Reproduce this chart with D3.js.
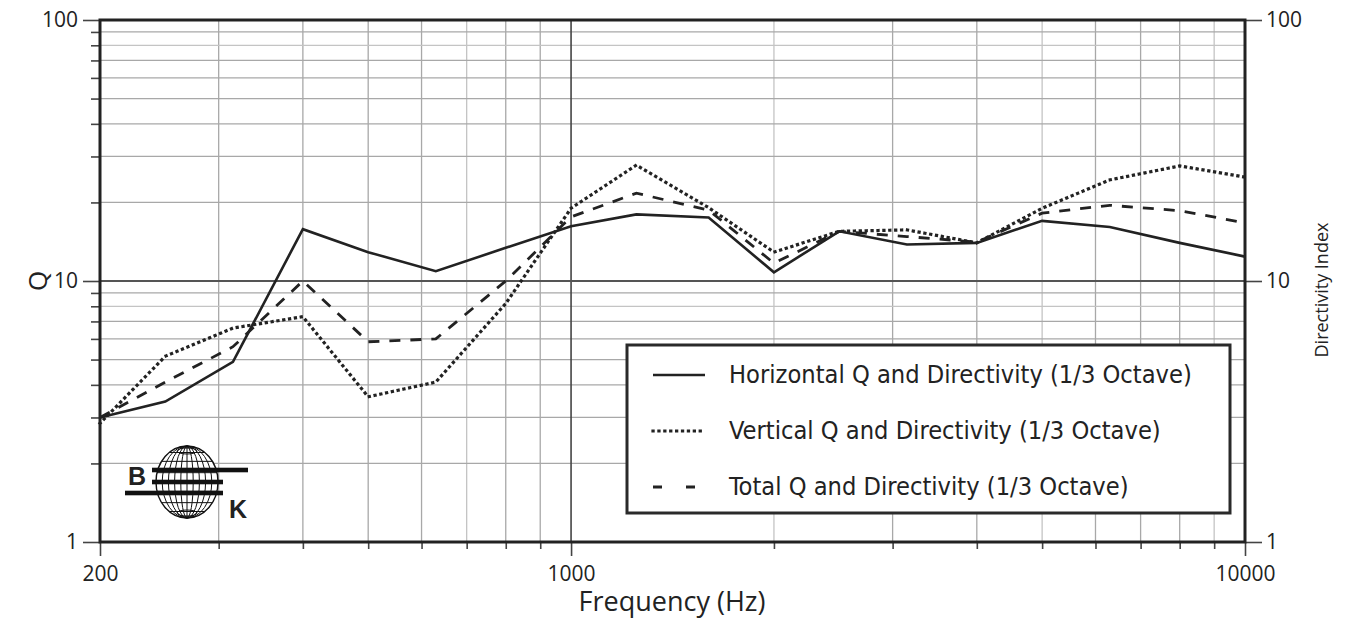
<!DOCTYPE html>
<html>
<head>
<meta charset="utf-8">
<script src="https://cdn.jsdelivr.net/npm/d3@7"></script>
<style>
  html, body { margin: 0; padding: 0; background: #fff; }
  svg { display: block; }
</style>
</head>
<body>
<svg id="chart" width="1347" height="629"></svg>
<script>
// ---------- data ----------
const freqs      = [200, 250, 315, 400, 500, 630, 800, 1000, 1250, 1600, 2000, 2500, 3150, 4000, 5000, 6300, 8000, 10000];
const horizontalQ = [3.0, 3.45, 4.9, 15.8, 12.9, 10.9, 13.4, 16.2, 18.0, 17.5, 10.8, 15.5, 13.8, 14.0, 17.0, 16.1, 14.0, 12.4];
const verticalQ   = [2.85, 5.15, 6.6, 7.3, 3.6, 4.1, 8.2, 19.0, 27.8, 19.1, 12.9, 15.5, 15.7, 14.0, 19.0, 24.4, 27.6, 25.0];
const totalQ      = [3.0, 4.1, 5.6, 10.0, 5.85, 6.0, 10.0, 17.6, 21.7, 18.7, 11.7, 15.5, 14.8, 14.1, 18.2, 19.5, 18.6, 16.7];
const seriesNames = ["Horizontal Q and Directivity (1/3 Octave)", "Vertical Q and Directivity (1/3 Octave)", "Total Q and Directivity (1/3 Octave)"];
const xTickLabels = [200, 1000, 10000];
const yTickLabels = [1, 10, 100];
const xMinorTicks = [300, 400, 500, 600, 700, 800, 900, 2000, 3000, 4000, 5000, 6000, 7000, 8000, 9000];
const yMinorTicks = [2, 3, 4, 5, 6, 7, 8, 9, 20, 30, 40, 50, 60, 70, 80, 90];
const xTitle = "Frequency (Hz)";
const yTitle = "Q";
const y2Title = "Directivity Index";

// ---------- layout ----------
const svg = d3.select("#chart");
const L = 100, R = 1245, T = 20, B = 542;
const x = d3.scaleLog().domain([200, 10000]).range([L, R]);
const y = d3.scaleLog().domain([1, 100]).range([B, T]);
const ink = "#222";
const tickFont = "'Open Sans', 'Noto Sans', sans-serif";

// grid
const g = svg.append("g");
g.selectAll(".vminor").data(xMinorTicks).join("line")
  .attr("x1", d => x(d)).attr("x2", d => x(d)).attr("y1", T).attr("y2", B)
  .attr("stroke", d => ([700, 2000, 5000, 9000].includes(d) ? "#c4c4c4" : "#a8a8a8")).attr("stroke-width", 1.3);
g.selectAll(".hminor").data(yMinorTicks).join("line")
  .attr("x1", L).attr("x2", R).attr("y1", d => y(d)).attr("y2", d => y(d))
  .attr("stroke", d => ([8, 80].includes(d) ? "#c4c4c4" : "#a8a8a8")).attr("stroke-width", 1.3);
// major grid
g.append("line").attr("x1", x(1000)).attr("x2", x(1000)).attr("y1", T).attr("y2", B).attr("stroke", "#444").attr("stroke-width", 1.6);
g.append("line").attr("x1", L).attr("x2", R).attr("y1", y(10)).attr("y2", y(10)).attr("stroke", "#555").attr("stroke-width", 1.8);

// axes via d3 axis generators
const axLeft = d3.axisLeft(y).tickValues(yTickLabels).tickFormat(d3.format("d")).tickSize(17).tickPadding(5);
const axLeftMinor = d3.axisLeft(y).tickValues(yMinorTicks).tickFormat("").tickSize(9);
const axRight = d3.axisRight(y).tickValues(yTickLabels).tickFormat(d3.format("d")).tickSize(17).tickPadding(4);
const axBottom = d3.axisBottom(x).tickValues(xTickLabels).tickFormat(d3.format("d")).tickSize(14).tickPadding(10);
const axBottomMinor = d3.axisBottom(x).tickValues(xMinorTicks).tickFormat("").tickSize(7);

function styleAxis(sel) {
  sel.select(".domain").remove();
  sel.selectAll(".tick line").attr("stroke", "#444").attr("stroke-width", 1.6);
  sel.selectAll(".tick text").attr("fill", ink).style("font-family", tickFont).style("font-size", "21px");
}
svg.append("g").attr("transform", `translate(${L},0)`).call(axLeft).call(styleAxis);
svg.append("g").attr("transform", `translate(${L},0)`).call(axLeftMinor).call(styleAxis);
svg.append("g").attr("transform", `translate(${R},0)`).call(axRight).call(styleAxis);
svg.append("g").attr("transform", `translate(0,${B})`).call(axBottom).call(styleAxis);
svg.append("g").attr("transform", `translate(0,${B})`).call(axBottomMinor).call(styleAxis);

// lines
const line = d3.line().x(d => x(d[0])).y(d => y(d[1]));
const series = [
  { vals: horizontalQ, dash: null, w: 2.6, cap: "butt" },
  { vals: verticalQ, dash: "0.1 5.8", w: 3.2, cap: "square" },
  { vals: totalQ, dash: "11 10", w: 2.8, cap: "butt" }
];
series.forEach(s => {
  svg.append("path")
    .attr("d", line(freqs.map((f, i) => [f, s.vals[i]])))
    .attr("fill", "none").attr("stroke", ink).attr("stroke-width", s.w)
    .attr("stroke-linecap", s.cap).attr("stroke-linejoin", "miter")
    .attr("stroke-dasharray", s.dash);
});

// frame
svg.append("rect").attr("x", L).attr("y", T).attr("width", R - L).attr("height", B - T)
  .attr("fill", "none").attr("stroke", ink).attr("stroke-width", 3);

// legend
const lg = svg.append("g");
lg.append("rect").attr("x", 627).attr("y", 345).attr("width", 603).attr("height", 168)
  .attr("fill", "#fff").attr("stroke", "#2a2a2a").attr("stroke-width", 3);
const rowY = [375, 431, 487];
series.forEach((s, i) => {
  lg.append("line").attr("x1", 653).attr("x2", 705).attr("y1", rowY[i]).attr("y2", rowY[i])
    .attr("stroke", ink).attr("stroke-width", s.w).attr("stroke-linecap", s.cap)
    .attr("stroke-dasharray", s.dash === "11 10" ? "9 24" : s.dash);
  lg.append("text").attr("x", 729).attr("y", rowY[i] + 8)
    .attr("fill", ink).style("font-family", "'DejaVu Sans Condensed', 'DejaVu Sans', sans-serif")
    .style("font-size", "23px").text(seriesNames[i]);
});
// fit legend text widths to reference (first row ~463px)
const firstLen = lg.selectAll("text").nodes()[0].getComputedTextLength();
const scaleF = 463 / firstLen;
lg.selectAll("text").style("font-size", (23 * scaleF).toFixed(2) + "px");

// axis titles
svg.append("text").attr("x", 672).attr("y", 611).attr("text-anchor", "middle")
  .attr("fill", ink).style("font-family", tickFont).style("font-size", "27px").text(xTitle);
svg.append("text").attr("transform", "translate(47,281) rotate(-90)").attr("text-anchor", "middle")
  .attr("fill", ink).style("font-family", tickFont).style("font-size", "26px").text(yTitle);
svg.append("text").attr("transform", "translate(1328,290) rotate(-90)").attr("text-anchor", "middle")
  .attr("fill", ink).style("font-family", tickFont).style("font-size", "18px").text(y2Title);

// logo (globe with bars)
const logo = svg.append("g").attr("stroke", "#111").attr("fill", "none");
const cx = 187, cy = 482, rx = 31, ry = 36;
logo.append("ellipse").attr("cx", cx).attr("cy", cy).attr("rx", rx).attr("ry", ry).attr("fill", "#fff").attr("stroke-width", 1.4);
[0.2, 0.4, 0.6, 0.8].forEach(k => {
  logo.append("ellipse").attr("cx", cx).attr("cy", cy).attr("rx", rx * k).attr("ry", ry).attr("stroke-width", 1);
});
logo.append("line").attr("x1", cx).attr("x2", cx).attr("y1", cy - ry).attr("y2", cy + ry).attr("stroke-width", 1);
[-75, -55, -35, -15, 15, 35, 55, 75].forEach(a => {
  const yy = cy + ry * Math.sin(a * Math.PI / 180);
  const hw = rx * Math.cos(a * Math.PI / 180);
  logo.append("line").attr("x1", cx - hw).attr("x2", cx + hw).attr("y1", yy).attr("y2", yy).attr("stroke-width", 1);
});
logo.append("ellipse").attr("cx", cx).attr("cy", cy - ry + 5).attr("rx", 10).attr("ry", 3).attr("stroke-width", 1);
logo.append("ellipse").attr("cx", cx).attr("cy", cy + ry - 5).attr("rx", 10).attr("ry", 3).attr("stroke-width", 1);
const bars = [[152, 248, 470], [152, 223, 482], [125, 223, 493]];
bars.forEach(b => {
  svg.append("rect").attr("x", b[0]).attr("y", b[2] - 2.3).attr("width", b[1] - b[0]).attr("height", 4.6).attr("fill", "#111");
});
svg.append("text").attr("x", 128).attr("y", 485).attr("fill", "#222")
  .style("font-family", "'Liberation Sans', Arial, sans-serif").style("font-weight", "bold").style("font-size", "25px").text("B");
svg.append("text").attr("x", 229).attr("y", 518).attr("fill", "#222")
  .style("font-family", "'Liberation Sans', Arial, sans-serif").style("font-weight", "bold").style("font-size", "25px").text("K");
</script>
</body>
</html>
